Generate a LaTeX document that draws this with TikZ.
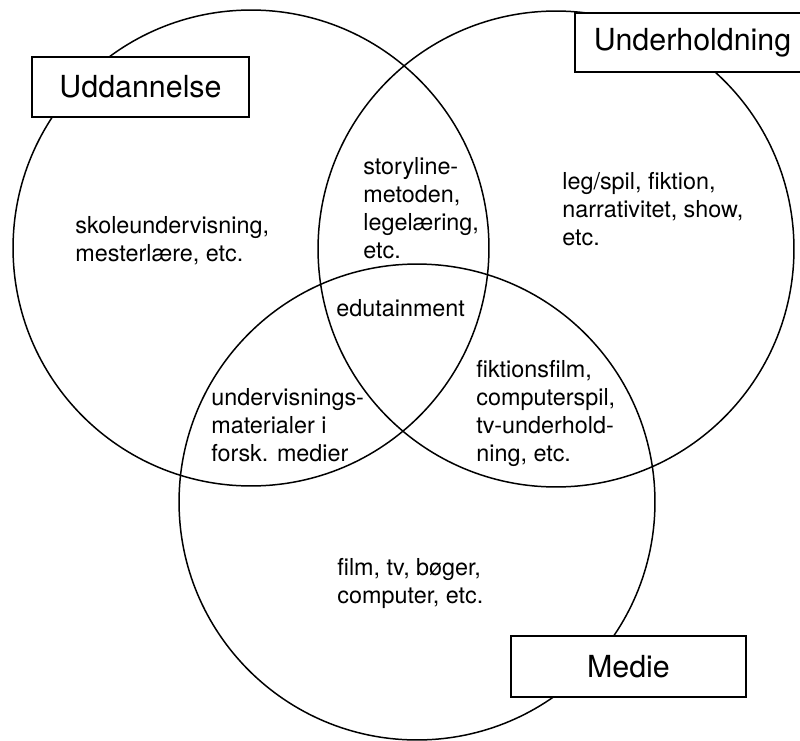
\documentclass[tikz,border=0pt]{standalone}
\usepackage{fontspec}
\setmainfont{TeX Gyre Heros}
\usetikzlibrary{positioning}

\begin{document}
\begin{tikzpicture}[x=0.02cm,y=-0.02cm,
  ring/.style={circle,draw,line width=0.85pt,minimum size=9.52cm,inner sep=0pt},
  setlabel/.style={draw,fill=white,line width=1.1pt,minimum width=4.7cm,minimum height=1.2cm,
    inner sep=0pt,font=\fontsize{17.3}{20}\selectfont},
  body/.style={align=left,inner sep=0pt,anchor=base west,font=\fontsize{13.3}{15.9}\selectfont}]
  \useasboundingbox (0,0) rectangle (800,740);
  \begin{scope}
    \clip (0,0) rectangle (800,740);
    % the three sets
    \node[ring] (ringU) at (251,248) {};
    \node[ring] (ringH) at (556,249) {};
    \node[ring] (ringM) at (417,502) {};
    % set names
    \node[setlabel,minimum width=4.34cm] (uddannelse) at (140.5,87) {Uddannelse};
    \node[setlabel,minimum height=1.18cm] (underholdning) at (692.5,42.5) {Underholdning};
    \node[setlabel,minimum height=1.22cm] (medie) at (628.5,666.5) {Medie};
  \end{scope}
  % contents of each region (placed by the baseline of the last line)
  \node[body] (txtU) at (75,261) {skoleundervisning,\\mesterlære, etc.};
  \node[body] (txtUH) at (363,258) {storyline-\\metoden,\\legelæring,\\etc.};
  \node[body] (txtH) at (562,245) {leg/spil, fiktion,\\narrativitet, show,\\etc.};
  \node[body] (txtAll) at (336,316) {edutainment};
  \node[body] (txtUM) at (211,461) {undervisnings-\\materialer i\\forsk. medier};
  \node[body] (txtHM) at (476,461) {fiktionsfilm,\\computerspil,\\tv-underhold-\\ning, etc.};
  \node[body] (txtM) at (337,603) {film, tv, bøger,\\computer, etc.};
\end{tikzpicture}
\end{document}
